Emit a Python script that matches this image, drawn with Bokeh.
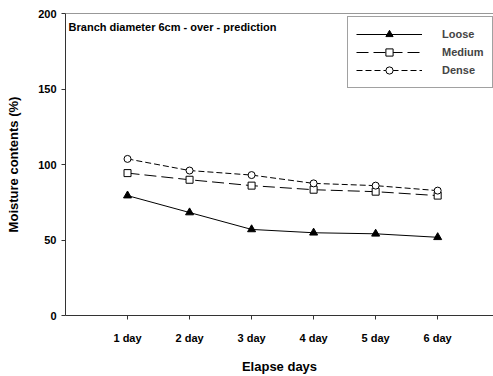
from bokeh.plotting import figure
from bokeh.models import Range1d, FixedTicker, Legend, LegendItem, Span, Label
from bokeh.embed import file_html
from bokeh.resources import INLINE

days = [1, 2, 3, 4, 5, 6]
day_labels = ["1 day", "2 day", "3 day", "4 day", "5 day", "6 day"]
loose = [79.4, 68.2, 57.0, 54.8, 54.1, 51.8]
medium = [94.3, 89.9, 86.0, 83.3, 82.0, 79.4]
dense = [103.7, 96.0, 93.0, 87.5, 86.0, 82.7]
y_ticks = [0, 50, 100, 150, 200]

FONT = "Liberation Sans"
AXC = "#333333"

p = figure(width=493, height=376, output_backend="svg", toolbar_location=None,
           x_range=Range1d(0, 6.9), y_range=Range1d(0, 200),
           min_border_left=65, min_border_right=0, min_border_top=13, min_border_bottom=59)
p.outline_line_color = None
p.outline_line_alpha = 0
p.outline_line_width = 0
p.border_fill_color = "white"
p.grid.visible = False
p.background_fill_color = "white"

for ax in (p.xaxis[0], p.yaxis[0]):
    ax.axis_line_color = AXC
    ax.major_tick_line_color = AXC
    ax.minor_tick_line_color = None
    ax.major_tick_in = 0
    ax.major_tick_out = 4
    ax.major_label_text_font = FONT
    ax.major_label_text_font_style = "bold"
    ax.major_label_text_font_size = "11px"
    ax.major_label_text_color = "black"
    ax.axis_label_text_font = FONT
    ax.axis_label_text_font_style = "bold"
    ax.axis_label_text_font_size = "13px"
    ax.axis_label_text_color = "black"

p.xaxis.ticker = FixedTicker(ticks=days)
p.xaxis.major_label_overrides = {d: l for d, l in zip(days, day_labels)}
p.xaxis.major_label_standoff = 12
p.xaxis.axis_label = "Elapse days"
p.xaxis.axis_label_standoff = 12
p.yaxis.ticker = FixedTicker(ticks=y_ticks)
p.yaxis.major_label_standoff = 5
p.yaxis.axis_label = "Moisture contents (%)"
p.yaxis.axis_label_standoff = 14

p.add_layout(Span(location=200, dimension="width", line_color=AXC, line_width=1))

l1 = p.line(days, loose, line_color="black", line_width=1)
m1 = p.scatter(days, loose, marker="triangle", size=8, fill_color="black", line_color="black")
l2 = p.line(days, medium, line_color="black", line_width=1, line_dash="12 5")
m2 = p.scatter(days, medium, marker="square", size=7, fill_color="white", line_color="black")
l3 = p.line(days, dense, line_color="black", line_width=1, line_dash="6 3")
m3 = p.scatter(days, dense, marker="circle", size=7, fill_color="white", line_color="black")

legend = Legend(items=[
    LegendItem(label="Loose", renderers=[l1, m1]),
    LegendItem(label="Medium", renderers=[l2, m2]),
    LegendItem(label="Dense", renderers=[l3, m3]),
], location=(282, 227))
legend.glyph_width = 66
legend.glyph_height = 18
legend.label_height = 18
legend.spacing = 0
legend.padding = 8
legend.margin = 0
legend.label_standoff = 20
legend.label_text_font = FONT
legend.label_text_font_style = "bold"
legend.label_text_font_size = "11px"
legend.border_line_color = "#444444"
legend.border_line_width = 1
legend.background_fill_alpha = 1
p.add_layout(legend, "center")

p.add_layout(Label(x=0.05, y=190.8, text="Branch diameter 6cm - over - prediction",
                   text_font=FONT, text_font_style="bold", text_font_size="11px",
                   text_baseline="middle", text_color="black"))

open("out.html", "w").write(file_html(p, INLINE))
